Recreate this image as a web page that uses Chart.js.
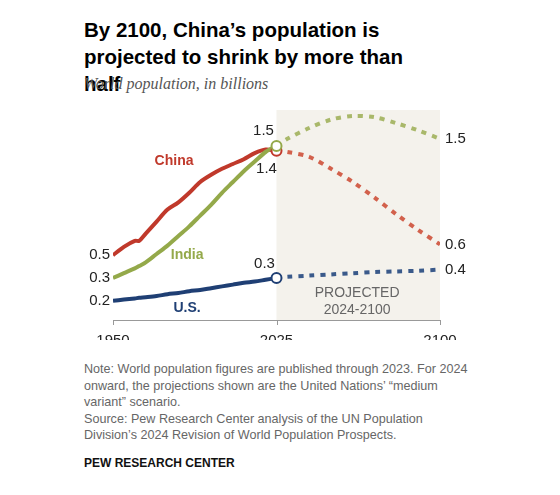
<!DOCTYPE html>
<html><head><meta charset="utf-8">
<script src="https://cdn.jsdelivr.net/npm/chart.js@4"></script>
<style>
body{margin:0;width:560px;height:495px;background:#fff;font-family:"Liberation Sans",Arial,sans-serif;position:relative;overflow:hidden}
#t{position:absolute;left:84px;top:16px;font-weight:bold;font-size:20.5px;line-height:27px;color:#000;width:340px}
#s{position:absolute;left:84px;top:75px;font-family:"Liberation Serif",Georgia,serif;font-style:italic;font-size:16px;color:#555}
#c{position:absolute;left:0;top:0}
#n{position:absolute;left:84px;top:361px;font-size:12.6px;line-height:16.6px;color:#666;width:390px}
#f{position:absolute;left:84px;top:456px;font-size:12px;font-weight:bold;color:#111}
</style></head><body>
<div id="t">By 2100, China’s population is projected to shrink by more than half</div>
<div id="s">World population, in billions</div>
<canvas id="c" width="560" height="340"></canvas>
<div id="n">Note: World population figures are published through 2023. For 2024 onward, the projections shown are the United Nations’ “medium variant” scenario.<br>Source: Pew Research Center analysis of the UN Population Division’s 2024 Revision of World Population Prospects.</div>
<div id="f">PEW RESEARCH CENTER</div>
<script>
const years=[1950,1955,1960,1962,1965,1970,1975,1980,1985,1990,1995,2000,2005,2010,2015,2020,2025];
const china=[0.54,0.61,0.66,0.66,0.72,0.82,0.92,0.98,1.06,1.15,1.21,1.26,1.30,1.34,1.39,1.42,1.41];
const india=[0.35,0.39,0.43,0.45,0.48,0.55,0.62,0.70,0.78,0.87,0.96,1.06,1.15,1.24,1.32,1.40,1.45];
const us=[0.16,0.17,0.18,0.185,0.19,0.20,0.215,0.225,0.24,0.25,0.265,0.28,0.295,0.31,0.32,0.335,0.35];
const pYears=[2025,2030,2040,2050,2060,2070,2080,2090,2100];
const chinaP=[1.41,1.40,1.36,1.26,1.15,1.02,0.88,0.75,0.63];
const indiaP=[1.45,1.51,1.60,1.67,1.70,1.69,1.64,1.58,1.51];
const usP=[0.35,0.36,0.37,0.38,0.39,0.40,0.405,0.41,0.42];
const xTicks=[1950,2025,2100];
const C='#c0392b',Cp='#d2614c',I='#94a94a',Ip='#a9b86a',U='#1f3f74',Up='#3a5a8a';
const pts=(xs,ys)=>xs.map((x,i)=>({x,y:ys[i]}));
function ds(d,col,dash){return{data:d,borderColor:col,borderWidth:4,pointRadius:0,tension:0.3,borderDash:dash?[5,6]:[],borderCapStyle:'butt',fill:false};}
const F='15px "Liberation Sans",Arial';
const plug={id:'p',beforeDatasetsDraw(ch){const {ctx,scales:{x,y}}=ch;
 ctx.save();ctx.fillStyle='#f4f2ec';ctx.fillRect(x.getPixelForValue(2025),y.getPixelForValue(1.75),x.getPixelForValue(2100)-x.getPixelForValue(2025),y.getPixelForValue(0)-y.getPixelForValue(1.75));
 ctx.strokeStyle='#999';ctx.lineWidth=1;ctx.beginPath();const b=y.getPixelForValue(0);ctx.moveTo(x.getPixelForValue(1950),b+0.5);ctx.lineTo(x.getPixelForValue(2100),b+0.5);
 xTicks.forEach(t=>{const px=Math.round(x.getPixelForValue(t))+0.5;ctx.moveTo(px,b);ctx.lineTo(px,b+5);});ctx.stroke();
 ctx.fillStyle='#222';ctx.font=F;ctx.textAlign='center';ctx.textBaseline='top';
 xTicks.forEach(t=>ctx.fillText(String(t),x.getPixelForValue(t),b+13));
 ctx.fillStyle='#666';ctx.font='14px "Liberation Sans",Arial';ctx.fillText('PROJECTED',x.getPixelForValue(2062),b-34);ctx.fillText('2024-2100',x.getPixelForValue(2062),b-17);
 ctx.restore();},
 afterDatasetsDraw(ch){const {ctx,scales:{x,y}}=ch;ctx.save();
 [[1.41,C],[1.45,I],[0.35,U]].forEach(([v,c])=>{ctx.beginPath();ctx.arc(x.getPixelForValue(2025),y.getPixelForValue(v),5,0,Math.PI*2);ctx.fillStyle='#fff';ctx.fill();ctx.lineWidth=2;ctx.strokeStyle=c;ctx.stroke();});
 ctx.fillStyle='#222';ctx.font=F;ctx.textBaseline='middle';
 ctx.textAlign='right';const x0=x.getPixelForValue(1950)-3;
 ctx.fillText('0.5',x0,y.getPixelForValue(china[0]));ctx.fillText('0.3',x0,y.getPixelForValue(india[0]));ctx.fillText('0.2',x0,y.getPixelForValue(us[0]));
 ctx.textAlign='center';const x25=x.getPixelForValue(2025);
 ctx.fillText('1.5',x25-13,y.getPixelForValue(1.51)-8);ctx.fillText('1.4',x25-10,y.getPixelForValue(1.41)+18);ctx.fillText('0.3',x25-12,y.getPixelForValue(0.35)-14);
 ctx.textAlign='left';const x1=x.getPixelForValue(2100)+5;
 ctx.fillText('1.5',x1,y.getPixelForValue(1.51));ctx.fillText('0.6',x1,y.getPixelForValue(0.63));ctx.fillText('0.4',x1,y.getPixelForValue(0.42));
 ctx.font='bold 14px "Liberation Sans",Arial';ctx.textAlign='center';
 ctx.fillStyle=C;ctx.fillText('China',x.getPixelForValue(1978),y.getPixelForValue(1.32));
 ctx.fillStyle=I;ctx.fillText('India',x.getPixelForValue(1984),y.getPixelForValue(0.54));
 ctx.fillStyle=U;ctx.fillText('U.S.',x.getPixelForValue(1984),y.getPixelForValue(0.1));
 ctx.restore();}};
new Chart(document.getElementById('c'),{type:'line',
 data:{datasets:[ds(pts(pYears,chinaP),Cp,true),ds(pts(pYears,indiaP),Ip,true),ds(pts(pYears,usP),Up,true),
  ds(pts(years,us),U,false),ds(pts(years,india),I,false),ds(pts(years,china),C,false)]},
 options:{responsive:false,animation:false,layout:{padding:{left:113,right:120,top:110,bottom:20}},
  plugins:{legend:{display:false},tooltip:{enabled:false}},
  scales:{x:{type:'linear',min:1950,max:2100,display:false},y:{min:0,max:1.75,display:false}}},
 plugins:[plug]});
</script></body></html>
